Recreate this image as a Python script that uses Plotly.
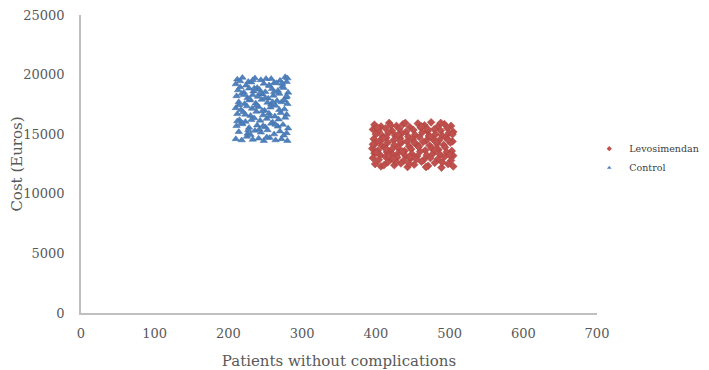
import plotly.graph_objects as go

# Levosimendan (red diamonds)
levo_x = [
    398, 407, 418, 428, 437, 446, 457, 466, 475, 484, 493, 502,
    396, 404, 413, 422, 432, 441, 451, 461, 470, 479, 488, 497, 505,
    400, 409, 417, 426, 435, 444, 453, 463, 472, 481, 490, 499,
    397, 405, 414, 424, 433, 442, 450, 459, 468, 477, 486, 495, 504,
    399, 408, 416, 425, 434, 445, 455, 464, 473, 483, 492, 501,
    395, 403, 412, 421, 430, 439, 448, 458, 467, 476, 485, 494, 503,
    398, 406, 415, 423, 431, 440, 449, 460, 469, 478, 487, 496, 505,
    396, 404, 413, 420, 429, 438, 447, 456, 465, 474, 484, 493, 502,
    399, 407, 416, 425, 434, 443, 452, 462, 471, 480, 489, 498, 505,
    402, 420, 440, 462, 488, 410, 430, 452, 474, 498, 401, 418, 436, 455, 480,
    500, 411, 427, 445, 468, 490, 396, 414, 433, 458, 482, 504, 424, 446, 470,
]
levo_y = [
    15800, 15650, 15950, 15700, 15850, 15600, 15900, 15750, 16000, 15650, 15850, 15700,
    15400, 15250, 15500, 15300, 15450, 15200, 15350, 15550, 15250, 15400, 15300, 15500, 15200,
    15000, 14850, 15100, 14900, 15050, 14800, 14950, 15150, 14850, 15000, 14900, 15100,
    14600, 14450, 14700, 14500, 14650, 14400, 14550, 14750, 14450, 14600, 14500, 14700, 14400,
    14200, 14050, 14300, 14100, 14250, 14000, 14150, 14350, 14050, 14200, 14100, 14300,
    13800, 13650, 13900, 13700, 13850, 13600, 13750, 13950, 13650, 13800, 13700, 13900, 13600,
    13400, 13250, 13500, 13300, 13450, 13200, 13350, 13550, 13250, 13400, 13300, 13500, 13200,
    13000, 12850, 13100, 12900, 13050, 12800, 12950, 13150, 12850, 13000, 12900, 13100, 12800,
    12500, 12300, 12650, 12400, 12550, 12250, 12450, 12700, 12350, 12600, 12200, 12500, 12300,
    15550, 15750, 15950, 15650, 15950, 14650, 14950, 14300, 14800, 14550, 13450, 13150, 13550, 12900, 13700,
    13250, 12400, 12700, 12550, 12250, 12650, 14150, 13750, 14450, 13950, 14350, 15000, 12950, 13100, 15450,
]

# Control (blue triangles)
control_x = [
    212, 219, 227, 236, 244, 251, 262, 270, 277, 280,
    210, 216, 224, 231, 239, 248, 256, 265, 273, 279,
    213, 221, 228, 234, 242, 250, 259, 267, 275, 281,
    211, 218, 226, 233, 240, 246, 254, 261, 269, 278,
    214, 222, 229, 237, 245, 253, 258, 266, 272, 280,
    210, 217, 225, 232, 241, 249, 257, 264, 276,
    212, 220, 230, 238, 247, 255, 263, 271, 279,
    215, 223, 235, 243, 252, 260, 268, 277,
    211, 219, 228, 239, 250, 258, 267, 274, 281,
    214, 226, 236, 244, 253, 262, 270, 279,
    210, 218, 225, 233, 241, 248, 256, 264, 272, 280,
    216, 233, 258, 273, 221, 243, 262, 229, 250, 276, 214, 238, 260, 223, 246,
    269, 231, 256, 218, 242, 264, 230, 252, 275, 212, 235, 255, 279, 227, 247,
]
control_y = [
    19600, 19750, 19400, 19700, 19550, 19650, 19300, 19500, 19800, 19700,
    19200, 18950, 19100, 19350, 18900, 19250, 19050, 19300, 19000, 19400,
    18700, 18500, 18850, 18600, 18750, 18550, 18800, 18650, 18900, 18500,
    18200, 18400, 18050, 18300, 18150, 18350, 18000, 18250, 18400, 18100,
    17700, 17550, 17850, 17600, 17900, 17650, 17500, 17800, 17700, 17550,
    17200, 17050, 17350, 17150, 17300, 17000, 17250, 17400, 17100,
    16700, 16850, 16550, 16900, 16600, 16750, 16500, 16800, 16650,
    16200, 16050, 16350, 16150, 16300, 16000, 16250, 16400,
    15700, 15850, 15550, 15750, 15600, 15900, 15650, 15800, 15500,
    15200, 15050, 15300, 15150, 15350, 15000, 15250, 15100,
    14600, 14500, 14800, 14550, 14650, 14450, 14700, 14500, 14600, 14450,
    19450, 19550, 19650, 19250, 18300, 18450, 18550, 17950, 18050, 17850, 17450, 17400, 17700, 16650, 16950,
    17050, 16200, 16500, 15950, 15400, 15800, 14950, 14750, 14900, 16100, 18850, 19100, 18200, 15350, 15700,
]

x_ticks = [0, 100, 200, 300, 400, 500, 600, 700]
x_tick_labels = ["0", "100", "200", "300", "400", "500", "600", "700"]
y_ticks = [0, 5000, 10000, 15000, 20000, 25000]
y_tick_labels = ["0", "5000", "10000", "15000", "20000", "25000"]

RED = "#C0504D"
BLUE = "#4F81BD"
FONT = "DejaVu Serif"

fig = go.Figure()
fig.add_trace(go.Scatter(x=levo_x, y=levo_y, mode="markers", name="Levosimendan",
                         showlegend=False, cliponaxis=False,
                         marker=dict(symbol="diamond", size=6, color=RED,
                                     line=dict(width=0.5, color="#A83A37"))))
fig.add_trace(go.Scatter(x=control_x, y=control_y, mode="markers", name="Control",
                         showlegend=False, cliponaxis=False,
                         marker=dict(symbol="triangle-up", size=6.5, color=BLUE,
                                     line=dict(width=0.5, color="#3E6FA8"))))
# legend entries with small markers
fig.add_trace(go.Scatter(x=[None], y=[None], mode="markers", name="Levosimendan",
                         marker=dict(symbol="diamond", size=4, color=RED)))
fig.add_trace(go.Scatter(x=[None], y=[None], mode="markers", name="Control",
                         marker=dict(symbol="triangle-up", size=4, color=BLUE)))

fig.update_layout(
    width=701, height=362,
    margin=dict(l=73, r=112, t=7, b=57, autoexpand=False),
    paper_bgcolor="white", plot_bgcolor="white",
    font=dict(family=FONT, color="#595959", size=13),
    showlegend=True,
    legend=dict(x=0.985, xanchor="left", y=0.60, yanchor="top",
                font=dict(family=FONT, size=9.5, color="#404040"),
                bgcolor="rgba(0,0,0,0)", itemwidth=30, tracegroupgap=0),
    xaxis=dict(range=[0, 700], tickvals=x_ticks, ticktext=x_tick_labels,
               showgrid=False, zeroline=False, automargin=False,
               showline=True, linecolor="#BFBFBF", linewidth=1.5,
               ticks="", ticklabelstandoff=8, ticklabeloverflow="allow",
               tickfont=dict(family=FONT, size=13, color="#595959"),
               title=dict(text="Patients without complications", standoff=15,
                          font=dict(family=FONT, size=15, color="#595959"))),
    yaxis=dict(range=[0, 25005], tickvals=y_ticks, ticktext=y_tick_labels,
               showgrid=False, zeroline=False, automargin=False,
               showline=True, linecolor="#BFBFBF", linewidth=1.5,
               ticks="", ticklabelstandoff=12, ticklabeloverflow="allow",
               tickfont=dict(family=FONT, size=13, color="#595959"),
               title=dict(text="Cost (Euros)", standoff=6,
                          font=dict(family=FONT, size=15, color="#595959"))),
)

fig.write_html("out.html")
